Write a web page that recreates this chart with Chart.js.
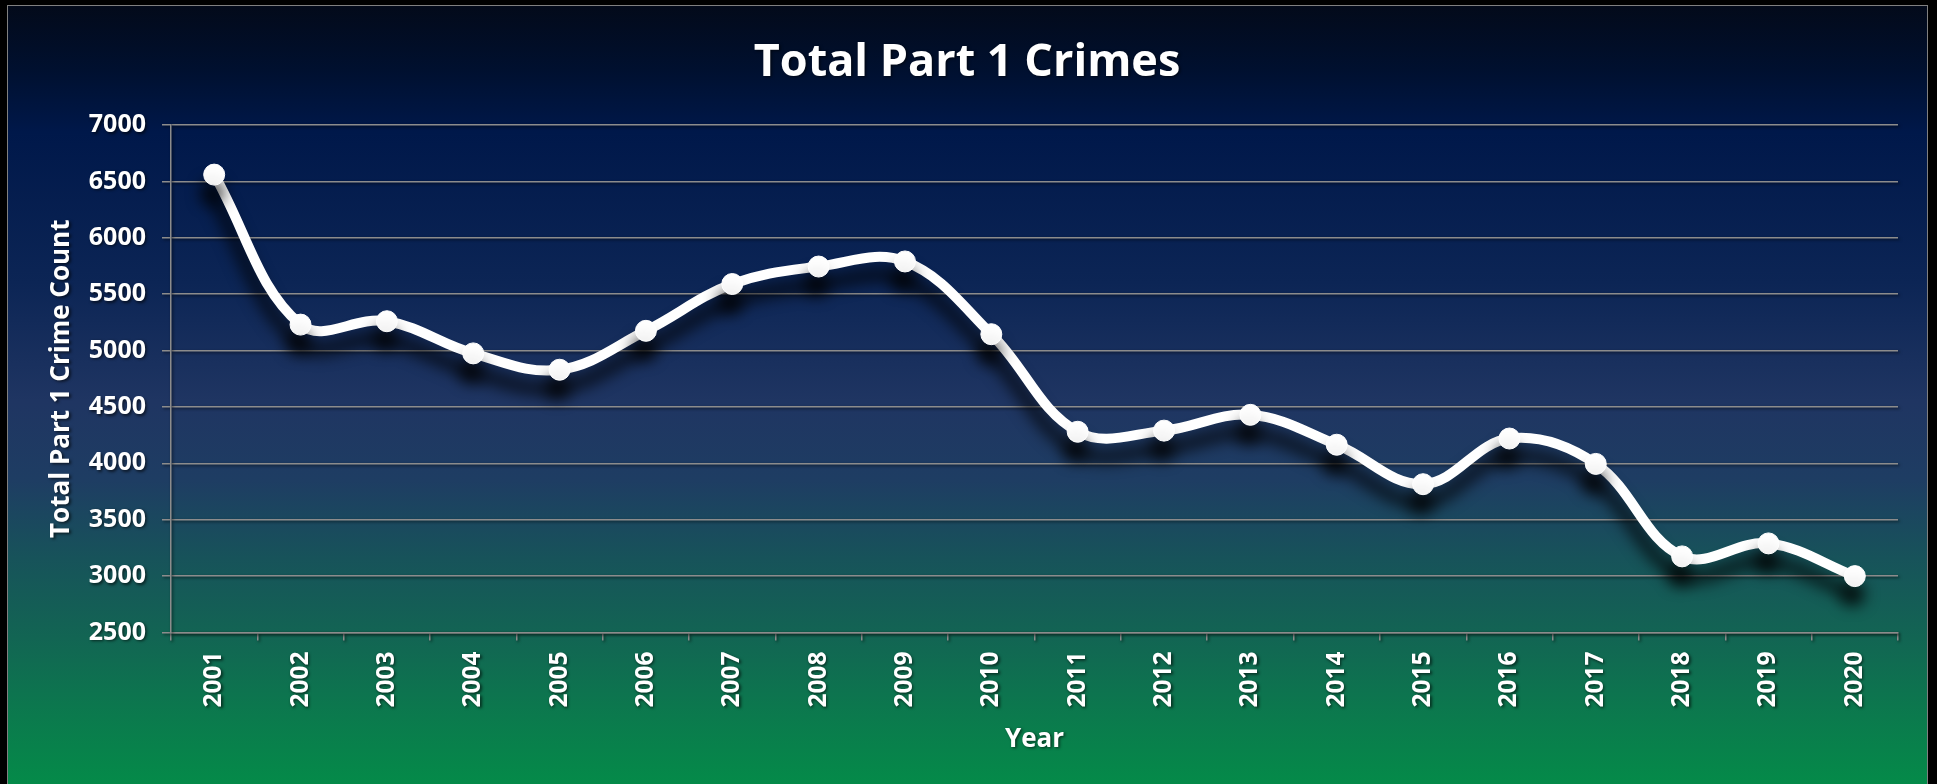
<!DOCTYPE html>
<html>
<head>
<meta charset="utf-8">
<script src="https://cdn.jsdelivr.net/npm/chart.js@4.4.1/dist/chart.umd.min.js"></script>
<style>
  html, body { margin: 0; padding: 0; background: #000; width: 1937px; height: 784px; overflow: hidden; }
  #panel {
    position: absolute; left: 7px; top: 5px; width: 1919px; height: 790px;
    border: 1px solid #808080;
    background: linear-gradient(to bottom,
      #030a1a 0%, #00102f 8%, #00184a 16%, #0c2555 35%, #1f3562 50%,
      #1e3d63 60%, #17535a 70%, #126553 80%, #0b7a4d 90%, #038d48 100%);
  }
  #c { position: absolute; left: 0; top: 0; }
</style>
</head>
<body>
<div id="panel"></div>
<canvas id="c" width="1937" height="784"></canvas>
<script>
// Dados do gráfico
const anos = ['2001', '2002', '2003', '2004', '2005', '2006', '2007', '2008', '2009', '2010',
              '2011', '2012', '2013', '2014', '2015', '2016', '2017', '2018', '2019', '2020'];
const totalCrimes = [6560, 5230, 5260, 4975, 4830, 5175, 5590, 5745, 5790, 5145,
                     4280, 4290, 4430, 4165, 3815, 4220, 3995, 3175, 3290, 3000];
const yTickValues = [2500, 3000, 3500, 4000, 4500, 5000, 5500, 6000, 6500, 7000];

const fonte = 'Open Sans';
const cinza = '#8c8c8c';

// sombras: leve para textos/grade, forte para a linha
const sombras = {
    id: 'sombras',
    beforeDraw(chart) {
        const c = chart.ctx;
        c.save();
        c.shadowColor = 'rgba(0,0,0,0.6)';
        c.shadowBlur = 3;
        c.shadowOffsetX = 1.5;
        c.shadowOffsetY = 1.5;
    },
    beforeDatasetsDraw(chart) {
        const c = chart.ctx;
        c.save();
        c.shadowColor = 'rgba(0,0,0,0.9)';
        c.shadowBlur = 16;
        c.shadowOffsetX = -2;
        c.shadowOffsetY = 18;
    },
    afterDatasetsDraw(chart) {
        chart.ctx.restore();
    },
    afterDraw(chart) {
        chart.ctx.restore();
    }
};

const ctx = document.getElementById('c').getContext('2d');
const grafico = new Chart(ctx, {
    type: 'line',
    data: {
        labels: anos,
        datasets: [{
            label: 'Total Part 1 Crimes',
            data: totalCrimes,
            borderColor: '#ffffff',
            borderWidth: 10,
            tension: 0.38,
            pointRadius: 10.5,
            pointBorderWidth: 1,
            pointBackgroundColor: '#ffffff',
            pointBorderColor: '#ffffff',
            clip: false
        }]
    },
    options: {
        responsive: false,
        animation: false,
        devicePixelRatio: 1,
        layout: {
            padding: { top: 6, left: 36, right: 39, bottom: 0 }
        },
        plugins: {
            legend: { display: false },
            tooltip: { enabled: false },
            title: {
                display: true,
                text: 'Total Part 1 Crimes',
                color: '#ffffff',
                font: { family: fonte, size: 45, weight: 'bold', lineHeight: 1.2 },
                padding: { top: 30, bottom: 35 }
            }
        },
        scales: {
            x: {
                offset: true,
                grid: {
                    display: true,
                    drawOnChartArea: false,
                    drawTicks: true,
                    tickLength: 8,
                    offset: true,
                    color: cinza,
                    lineWidth: 1.5
                },
                border: { display: true, color: cinza, width: 1.5 },
                ticks: {
                    color: '#ffffff',
                    font: { family: fonte, size: 24.5, weight: 'bold' },
                    minRotation: 90,
                    maxRotation: 90,
                    padding: 11,
                    autoSkip: false
                },
                title: {
                    display: true,
                    text: 'Year',
                    color: '#ffffff',
                    font: { family: fonte, size: 26, weight: 'bold', lineHeight: 1.2 },
                    padding: { top: 0, bottom: 29 }
                },
                afterFit: s => { s.height = 151.5; }
            },
            y: {
                min: 2500,
                max: 7000,
                afterBuildTicks: s => { s.ticks = yTickValues.map(v => ({ value: v })); },
                grid: {
                    color: cinza,
                    lineWidth: 1.5,
                    drawTicks: true,
                    tickLength: 9
                },
                border: { display: true, color: cinza, width: 1.5 },
                ticks: {
                    color: '#ffffff',
                    font: { family: fonte, size: 25, weight: 'bold' },
                    padding: 16,
                    callback: v => String(v)
                },
                title: {
                    display: true,
                    text: 'Total Part 1 Crime Count',
                    color: '#ffffff',
                    font: { family: fonte, size: 26, weight: 'bold', lineHeight: 1.2 },
                    padding: { top: 10, bottom: 0 }
                },
                afterFit: s => { s.width = 135; }
            }
        }
    },
    plugins: [sombras]
});
</script>
</body>
</html>
